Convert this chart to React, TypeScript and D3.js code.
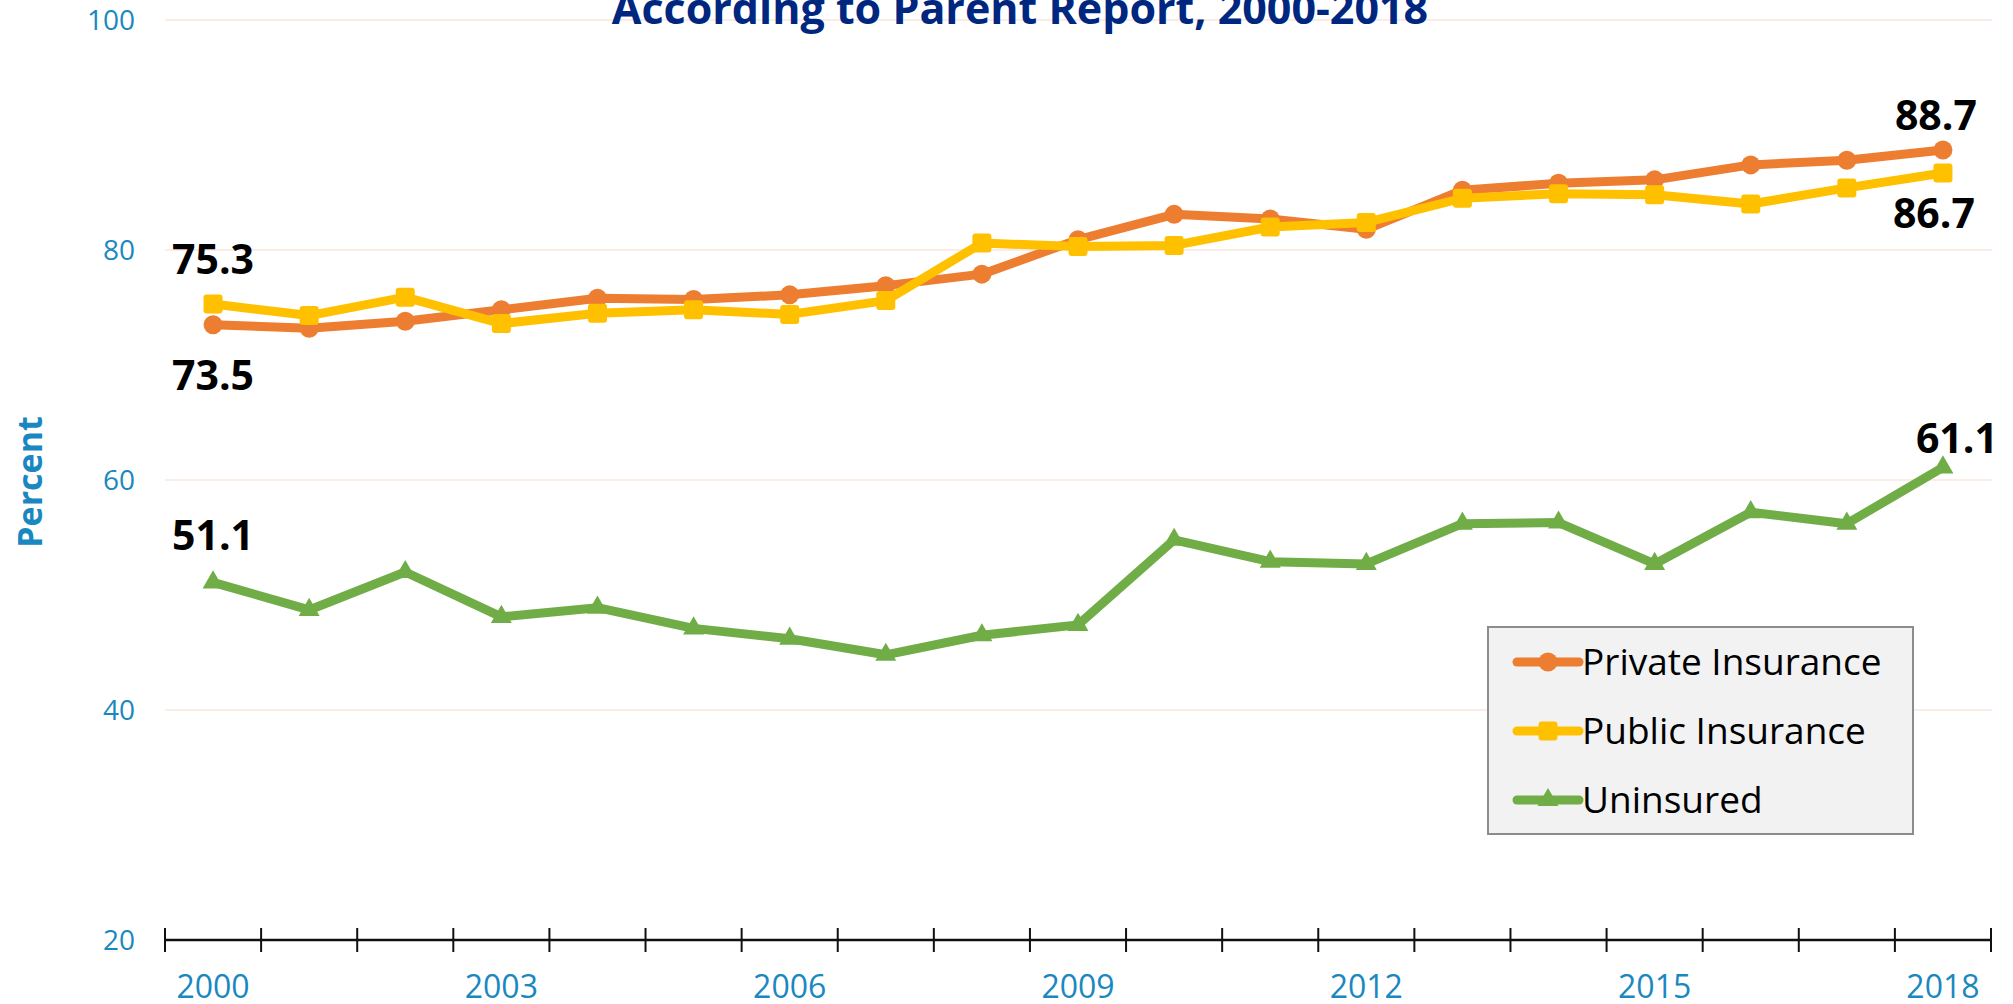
import React from 'react';
import * as d3 from 'd3';

const YEARS = [2000, 2001, 2002, 2003, 2004, 2005, 2006, 2007, 2008, 2009, 2010, 2011, 2012, 2013, 2014, 2015, 2016, 2017, 2018];
const PRIVATE_INS = [73.5, 73.2, 73.8, 74.8, 75.8, 75.7, 76.1, 76.9, 77.9, 80.9, 83.1, 82.7, 81.8, 85.2, 85.8, 86.1, 87.4, 87.8, 88.7];
const PUBLIC_INS = [75.3, 74.3, 75.9, 73.6, 74.5, 74.8, 74.4, 75.6, 80.6, 80.3, 80.4, 82.0, 82.4, 84.5, 84.9, 84.8, 84.0, 85.4, 86.7];
const UNINSURED = [51.1, 48.7, 52.0, 48.1, 48.9, 47.1, 46.2, 44.8, 46.5, 47.4, 54.8, 52.9, 52.7, 56.2, 56.3, 52.7, 57.2, 56.2, 61.1];
const Y_TICKS = [20, 40, 60, 80, 100];
const X_LABEL_YEARS = [2000, 2003, 2006, 2009, 2012, 2015, 2018];
const SERIES_NAMES = ['Private Insurance', 'Public Insurance', 'Uninsured'];
const TITLE = 'According to Parent Report, 2000-2018';

const W = 2013;
const H = 1004;
const FONT = '"Open Sans", "Noto Sans", sans-serif';
const BLUE = '#1a88c0';

const series = [
  { name: SERIES_NAMES[0], values: PRIVATE_INS, color: '#ED7D31', marker: 'circle' },
  { name: SERIES_NAMES[1], values: PUBLIC_INS, color: '#FFC000', marker: 'square' },
  { name: SERIES_NAMES[2], values: UNINSURED, color: '#70AD47', marker: 'triangle' },
];

// which points get a value label, and where it sits relative to the point
const annotations = [
  { s: 0, i: 0, dx: 0, dy: 65 },
  { s: 1, i: 0, dx: 0, dy: -30 },
  { s: 2, i: 0, dx: 0, dy: -32 },
  { s: 0, i: 18, dx: -7, dy: -20 },
  { s: 1, i: 18, dx: -9, dy: 55 },
  { s: 2, i: 18, dx: 14, dy: -14 },
];

const triPath = d3.symbol().type(d3.symbolTriangle).size(190)();

function Marker({ type, x, y, color }: { type: string; x: number; y: number; color: string }) {
  if (type === 'circle') return <circle cx={x} cy={y} r={9.5} fill={color} />;
  if (type === 'square') return <rect x={x - 9.5} y={y - 9.5} width={19} height={19} rx={3} fill={color} />;
  return <path d={triPath as string} transform={`translate(${x},${y})`} fill={color} />;
}

export default function App() {
  const x = d3.scaleBand<number>().domain(YEARS).range([165, 1991]).padding(0);
  const bw = x.bandwidth();
  const cx = (yr: number) => (x(yr) as number) + bw / 2;
  const y = d3.scaleLinear().domain([20, 100]).range([940, 20]);

  const line = d3.line<number>()
    .x((_, i) => cx(YEARS[i]))
    .y((d) => y(d));

  const tickXs = [...YEARS.map((yr) => x(yr) as number), x.range()[1]];

  const legendX = 1488;
  const legendY = 627;

  return (
    <svg
      width={W}
      height={H}
      style={{ position: 'absolute', left: 0, top: 0, background: '#fff' }}
      fontFamily={FONT}
    >
      {/* gridlines */}
      {Y_TICKS.filter((t) => t > 20).map((t) => (
        <line key={t} x1={165} x2={1992} y1={y(t)} y2={y(t)} stroke="#fbece6" strokeWidth={2} />
      ))}

      {/* title (first line cropped off in the original) */}
      <text x={1020} y={24} textAnchor="middle" fontSize={43} fontWeight={700} fill="#00277f">
        {TITLE}
      </text>

      {/* y tick labels */}
      {Y_TICKS.map((t) => (
        <text key={t} x={135} y={y(t)} dy="0.36em" textAnchor="end" fontSize={28} fill={BLUE}>
          {t}
        </text>
      ))}
      <text
        transform={`translate(42,482) rotate(-90)`}
        textAnchor="middle"
        fontSize={34}
        fontWeight={700}
        fill={BLUE}
      >
        Percent
      </text>

      {/* x axis */}
      <line x1={165} x2={1991} y1={y(20)} y2={y(20)} stroke="#111" strokeWidth={2.5} />
      {tickXs.map((tx, i) => (
        <line key={i} x1={tx} x2={tx} y1={y(20) - 12} y2={y(20) + 12} stroke="#111" strokeWidth={2} />
      ))}
      {X_LABEL_YEARS.map((yr) => (
        <text key={yr} x={cx(yr)} y={998} textAnchor="middle" fontSize={32} fill={BLUE}>
          {yr}
        </text>
      ))}

      {/* series */}
      {series.map((s) => (
        <g key={s.name}>
          <path d={line(s.values) as string} fill="none" stroke={s.color} strokeWidth={9} strokeLinejoin="round" />
          {s.values.map((v, i) => (
            <Marker key={i} type={s.marker} x={cx(YEARS[i])} y={y(v)} color={s.color} />
          ))}
        </g>
      ))}

      {/* value labels */}
      {annotations.map((a, k) => {
        const v = series[a.s].values[a.i];
        return (
          <text
            key={k}
            x={cx(YEARS[a.i]) + a.dx}
            y={y(v) + a.dy}
            textAnchor="middle"
            fontSize={41}
            fontWeight={700}
            fill="#000"
          >
            {v.toFixed(1)}
          </text>
        );
      })}

      {/* legend */}
      <rect x={legendX} y={legendY} width={425} height={207} fill="#f2f2f2" stroke="#8c8c8c" strokeWidth={2} />
      {series.map((s, i) => {
        const ly = legendY + 35 + i * 69;
        return (
          <g key={s.name}>
            <line x1={1517} x2={1579} y1={ly} y2={ly} stroke={s.color} strokeWidth={9} strokeLinecap="round" />
            <Marker type={s.marker} x={1548} y={ly} color={s.color} />
            <text x={1582} y={ly} dy="0.36em" fontSize={37} fill="#000">
              {s.name}
            </text>
          </g>
        );
      })}
    </svg>
  );
}
